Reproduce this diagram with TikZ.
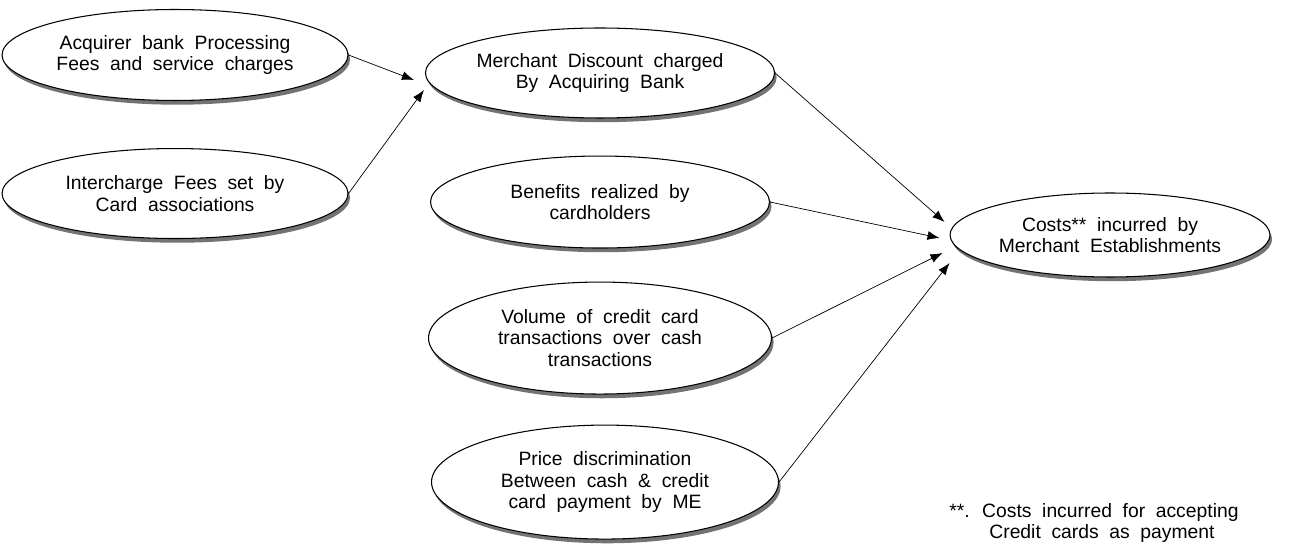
\documentclass[tikz,border=0pt]{standalone}
\usepackage{fontspec}
\setmainfont{Liberation Sans}
\usetikzlibrary{positioning}
\usetikzlibrary{shapes}
\usetikzlibrary{shadows}
\usetikzlibrary{arrows.meta}

\newcommand{\widewords}{\fontsize{11}{12.2}\selectfont\setlength{\spaceskip}{0.55em}}

\begin{document}
\begin{tikzpicture}[x=0.02cm, y=-0.02cm,
    factor/.style={draw, shape=ellipse, fill=white, line width=0.6pt, align=center, inner sep=0pt,
        drop shadow={shadow xshift=1.2pt, shadow yshift=-2.4pt, fill=black!55, opacity=1},
        font=\widewords},
    link/.style={-{Latex[length=2.4mm, width=1.8mm]}, line width=0.4pt},
    note/.style={align=left, inner sep=0pt, font=\widewords}]

    \useasboundingbox (0,0) rectangle (1290,546);

    % Acquirer fees
    \node[factor, minimum width=6.92cm, minimum height=1.82cm] (acq) at (175,55) {Acquirer bank Processing\\Fees and service charges};
    % Interchange
    \node[factor, minimum width=6.92cm, minimum height=1.8cm, below=0.94cm of acq] (ichg) {Intercharge Fees set by\\Card associations};
    % Merchant discount
    \node[factor, minimum width=6.68cm, minimum height=1.8cm] (mdr) at (600,73) {Merchant Discount charged\\By Acquiring Bank};
    \draw[link] (acq.east) -- ([shift={(-11,7)}]mdr.west);
    \draw[link] (ichg.east) -- ([shift={(-1,17)}]mdr.west);
    % Benefits
    \node[factor, minimum width=6.78cm, minimum height=1.84cm, below=0.74cm of mdr] (bene) {Benefits realized by\\cardholders};
    % Volume
    \node[factor, minimum width=6.86cm, minimum height=2.24cm, below=0.66cm of bene] (vol) {Volume of credit card\\transactions over cash\\transactions};
    % Price discrimination
    \node[factor, minimum width=6.94cm, minimum height=2.28cm, below=0.6cm of vol, xshift=0.1cm] (price) {Price discrimination\\Between cash \& credit\\card payment by ME};
    % Costs
    \node[factor, minimum width=6.4cm, minimum height=1.68cm] (cost) at (1110,235) {Costs** incurred by\\Merchant Establishments};
    \draw[link] (mdr.east) -- ([shift={(-5,-13)}]cost.west);
    \draw[link] (bene.east) -- ([shift={(-10,3)}]cost.west);
    \draw[link] (vol.east) -- ([shift={(-7,18)}]cost.west);
    \draw[link] (price.east) -- ([shift={(0,28)}]cost.west);
    % footnote
    \node[note, anchor=north west] (fn) at (949,503) {**. Costs incurred for accepting\\\hspace*{0.8cm}Credit cards as payment};

\end{tikzpicture}
\end{document}
